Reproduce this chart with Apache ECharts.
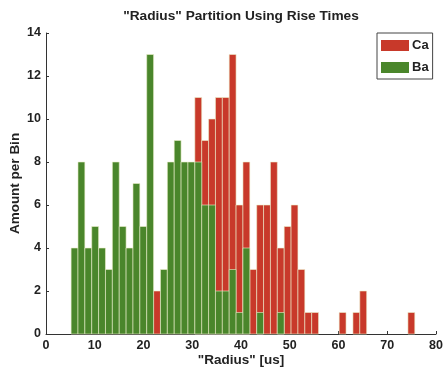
<!DOCTYPE html>
<html>
<head>
<meta charset="utf-8">
<script src="https://cdn.jsdelivr.net/npm/echarts@6/dist/echarts.min.js"></script>
<style>
html,body{margin:0;padding:0;background:#fff;}
#chart{width:443px;height:371px;}
</style>
</head>
<body>
<div id="chart"></div>
<script>
// Histogram bins (50 bins)
var binStart = 5.15;
var binWidth = 1.41;
// Counts per bin, Ca (red)
var caCounts = [0,0,0,0,0,0,0,0,0,0,0,0,2,0,0,0,0,0,11,9,10,11,11,13,6,8,3,6,6,8,4,5,6,3,1,1,0,0,0,1,0,1,2,0,0,0,0,0,0,1];
// Counts per bin, Ba (green)
var baCounts = [4,8,4,5,4,3,8,5,4,7,5,13,0,3,8,9,8,8,8,6,6,2,2,3,1,4,0,1,0,0,1,0,0,0,0,0,0,0,0,0,0,0,0,0,0,0,0,0,0,0];
var seriesNames = ['Ca', 'Ba'];
var xTicks = [0, 80, 10];
var yTicks = [0, 14, 2];
var titleText = '"Radius" Partition Using Rise Times';
var xName = '"Radius" [us]';
var yName = 'Amount per Bin';

var colors = ['#c8392a', '#4a862b'];
var font = '"Liberation Sans", Arial, Helvetica, sans-serif';

function toBins(counts) {
  return counts.map(function (v, i) {
    return [binStart + i * binWidth, binStart + (i + 1) * binWidth, v];
  });
}

function renderBar(params, api) {
  var v = api.value(2);
  if (!v) return null;
  var p0 = api.coord([api.value(0), v]);
  var p1 = api.coord([api.value(1), 0]);
  return {
    type: 'rect',
    shape: { x: p0[0], y: p0[1], width: p1[0] - p0[0], height: p1[1] - p0[1] },
    style: { fill: api.visual('color'), stroke: 'rgba(236,240,205,0.85)', lineWidth: 0.7 }
  };
}

var chart = echarts.init(document.getElementById('chart'), null, { renderer: 'canvas' });
chart.setOption({
  animation: false,
  backgroundColor: '#fff',
  graphic: [{
    type: 'text', x: 241, y: 16,
    style: { text: titleText, font: 'bold 13.7px ' + font, fill: '#222', align: 'center', verticalAlign: 'middle' }
  }],
  legend: {
    data: seriesNames,
    orient: 'vertical',
    left: 377, top: 33,
    padding: [6, 4, 5, 4],
    itemWidth: 28, itemHeight: 11, itemGap: 9,
    icon: 'rect',
    borderColor: '#444', borderWidth: 1,
    backgroundColor: '#fff',
    textStyle: { fontFamily: font, fontWeight: 'bold', fontSize: 13, color: '#222', padding: [0, 0, 0, -2] }
  },
  grid: { left: 46, top: 33, width: 390, height: 301, containLabel: false, outerBoundsMode: 'none' },
  xAxis: {
    type: 'value', min: xTicks[0], max: xTicks[1], interval: xTicks[2],
    name: xName, nameLocation: 'middle', nameGap: 19, nameMoveOverlap: false,
    nameTextStyle: { fontFamily: font, fontWeight: 'bold', fontSize: 13.5, color: '#222' },
    axisLine: { show: true, lineStyle: { color: '#333', width: 1 } },
    axisTick: { show: true, inside: true, length: 3, lineStyle: { color: '#333' } },
    axisLabel: { fontFamily: font, fontWeight: 'bold', fontSize: 12.5, color: '#222', margin: 5 },
    splitLine: { show: false }
  },
  yAxis: {
    type: 'value', min: yTicks[0], max: yTicks[1], interval: yTicks[2],
    name: yName, nameLocation: 'middle', nameGap: 24, nameRotate: 90, nameMoveOverlap: false,
    nameTextStyle: { fontFamily: font, fontWeight: 'bold', fontSize: 13.5, color: '#222' },
    axisLine: { show: true, lineStyle: { color: '#333', width: 1 } },
    axisTick: { show: true, inside: true, length: 3, lineStyle: { color: '#333' } },
    axisLabel: { fontFamily: font, fontWeight: 'bold', fontSize: 12.5, color: '#222', margin: 5 },
    splitLine: { show: false }
  },
  series: [
    { name: seriesNames[0], type: 'custom', renderItem: renderBar, itemStyle: { color: colors[0] },
      encode: { x: [0, 1], y: 2 }, data: toBins(caCounts) },
    { name: seriesNames[1], type: 'custom', renderItem: renderBar, itemStyle: { color: colors[1] },
      encode: { x: [0, 1], y: 2 }, data: toBins(baCounts) }
  ]
});
</script>
</body>
</html>
